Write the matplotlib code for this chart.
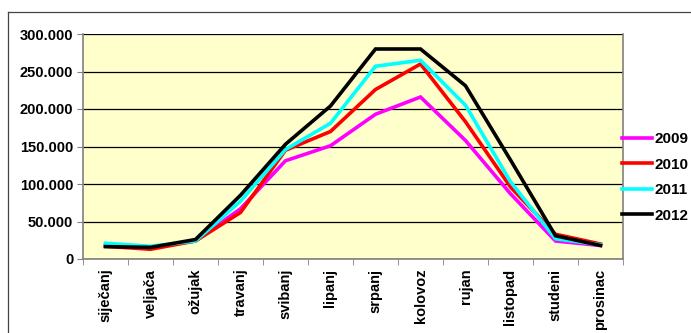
import matplotlib.pyplot as plt
import numpy as np
from matplotlib.lines import Line2D

plt.rcParams['font.family'] = ['Liberation Sans', 'DejaVu Sans']

mjeseci = ['siječanj', 'veljača', 'ožujak', 'travanj', 'svibanj', 'lipanj',
           'srpanj', 'kolovoz', 'rujan', 'listopad', 'studeni', 'prosinac']
g2009 = [18000, 16000, 24000, 67000, 131000, 151000, 193000, 216000, 158000, 87000, 24000, 18000]
g2010 = [17000, 13000, 24000, 62000, 145000, 170000, 226000, 260000, 183000, 96000, 33000, 20000]
g2011 = [21000, 17000, 24000, 77000, 146000, 181000, 257000, 265000, 205000, 103000, 27000, 19000]
g2012 = [16500, 15500, 26000, 85000, 153000, 204000, 280000, 280000, 231000, 132000, 31000, 18000]
godine = ['2009', '2010', '2011', '2012']
boje = ['#ff00ff', '#ff0000', '#00ffff', '#000000']
yticks = [0, 50000, 100000, 150000, 200000, 250000, 300000]
ylabels = ['0', '50.000', '100.000', '150.000', '200.000', '250.000', '300.000']

fig = plt.figure(figsize=(6.91, 3.33), dpi=100)
# vanjski okvir grafikona (samo gornji i lijevi rub se vidi)
fig.add_artist(Line2D([8 / 691, 1], [1 - 12 / 333, 1 - 12 / 333], transform=fig.transFigure,
                      color='#444444', linewidth=0.9))
fig.add_artist(Line2D([8 / 691, 8 / 691], [0, 1 - 12 / 333], transform=fig.transFigure,
                      color='#444444', linewidth=0.9))

ax = fig.add_axes([83 / 691, 74 / 333, 540 / 691, 225 / 333])
ax.set_facecolor('#ffffcc')

x = np.arange(len(mjeseci))
for podaci, boja, god in zip([g2009, g2010, g2011, g2012], boje, godine):
    ax.plot(x, podaci, color=boja, linewidth=2.6, label=god, solid_joinstyle='miter')

ax.set_xlim(-0.5, 11.5)
ax.set_ylim(0, 300000)
ax.set_yticks(yticks)
ax.set_yticklabels(ylabels, fontsize=10.5, fontweight='bold')
ax.yaxis.grid(True, color='black', linewidth=0.9)
ax.set_axisbelow(True)

ax.set_xticks(x)
ax.set_xticklabels(mjeseci, rotation=90, fontsize=10.5, fontweight='bold')
ax.set_xticks(np.arange(-0.5, 12, 1), minor=True)
ax.tick_params(axis='x', which='major', length=0, pad=7)
ax.tick_params(axis='x', which='minor', length=4, color='#808080', direction='out')
ax.tick_params(axis='y', length=4, color='#808080', direction='out', pad=3)

for s in ['left', 'bottom', 'right']:
    ax.spines[s].set_color('#808080')
    ax.spines[s].set_linewidth(1.2)
ax.spines['top'].set_visible(False)

ax.legend(loc='center left', bbox_to_anchor=(0.998, 0.362), frameon=False,
          prop={'size': 11, 'weight': 'bold'}, handlelength=2.0, handletextpad=0.15,
          labelspacing=0.75, borderaxespad=0, borderpad=0)

fig.savefig('out.png', dpi=100)
